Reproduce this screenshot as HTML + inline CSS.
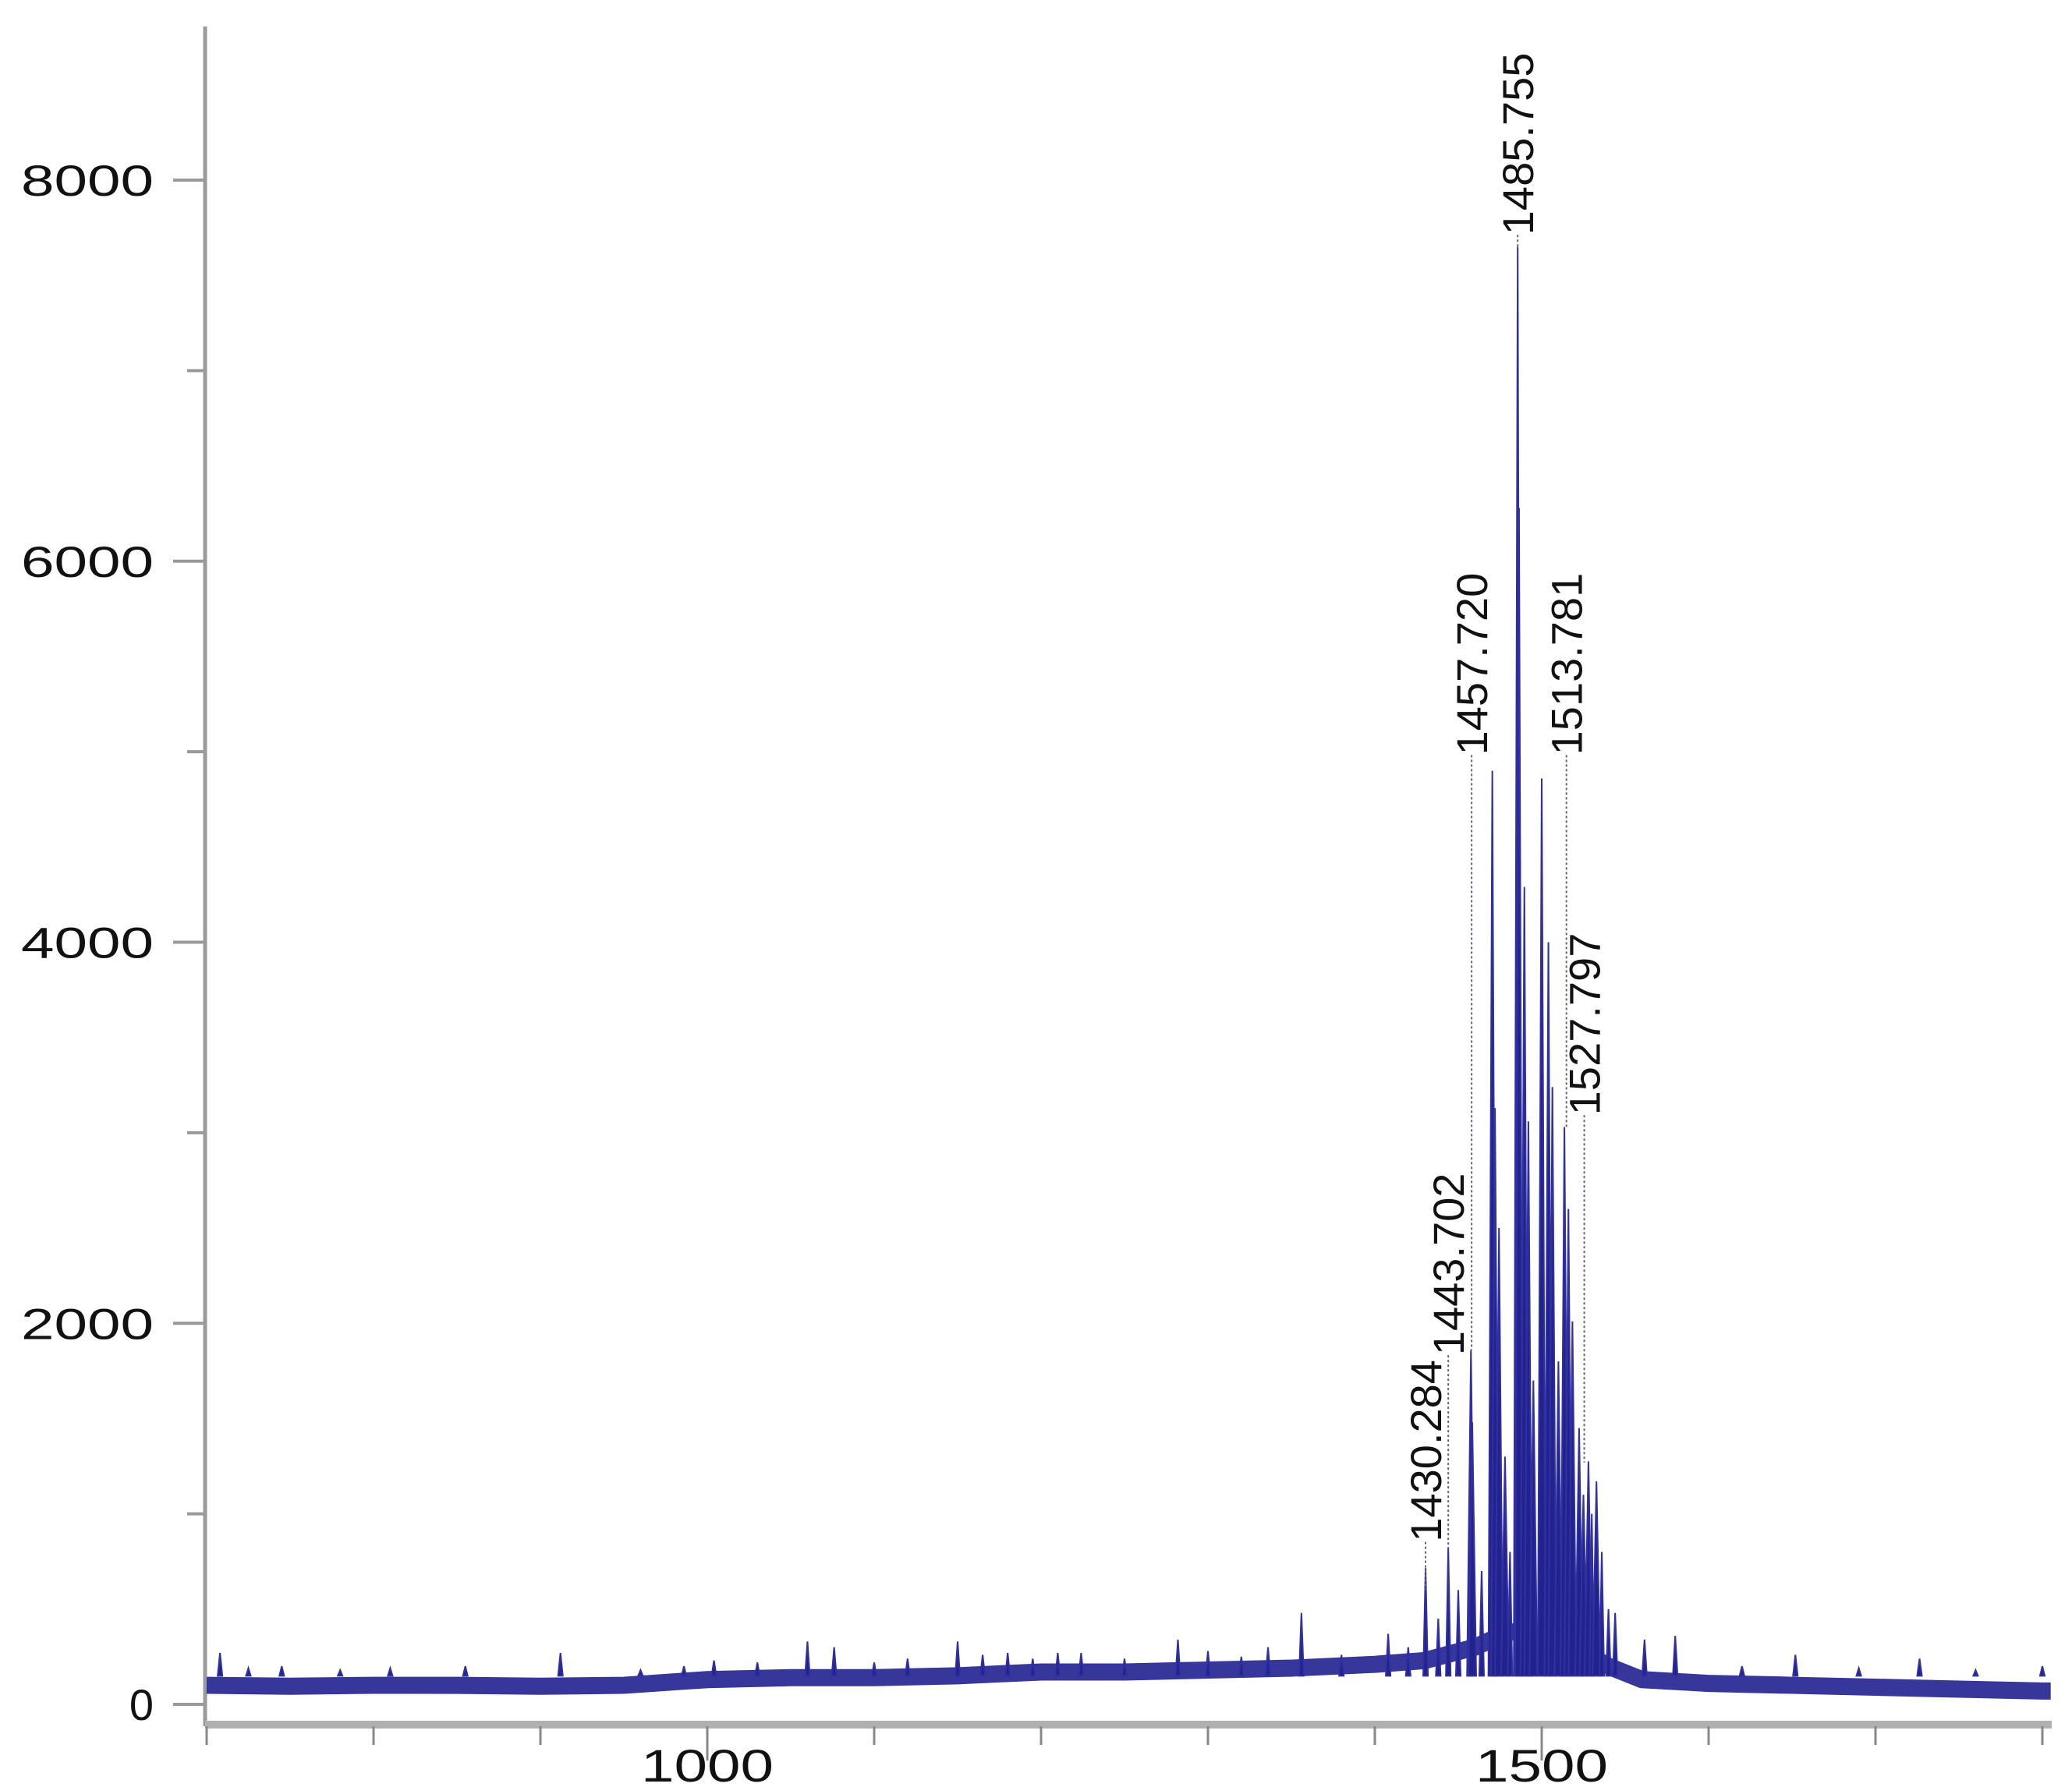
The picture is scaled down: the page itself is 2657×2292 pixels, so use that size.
<!DOCTYPE html>
<html><head><meta charset="utf-8"><style>
html,body{margin:0;padding:0;background:#fff;}
svg{display:block;font-family:"Liberation Sans",Arial,sans-serif;}
</style></head><body>
<svg id="chart" width="2657" height="2292" viewBox="0 0 2657 2292" xmlns="http://www.w3.org/2000/svg"></svg>
<script>
const baselineMz = [700,750,800,850,900,950,1000,1050,1100,1150,1200,1250,1300,1350,1400,1430,1460,1480,1500,1520,1540,1560,1600,1650,1700,1750,1800,1805];
const baselineInt = [100,95,100,100,95,100,130,140,140,150,170,170,180,190,210,230,300,380,380,300,200,130,110,100,90,80,70,70];
const peakMz = [708,725,745,780,810,855,912,960,986,1004,1030,1060,1076,1100,1120,1150,1165,1180,1195,1210,1224,1250,1282,1300,1320,1336,1356,1380,1408,1420,1430.4,1438,1444,1450,1457.6,1458.4,1464,1470.4,1472,1474.4,1478,1481,1485.6,1486.4,1489.6,1492,1495,1500,1504,1506.4,1510,1513.6,1516,1518.4,1522.4,1525,1528,1530,1532.8,1536,1540,1544,1561.6,1580,1620,1652,1690,1726.4,1760,1800];
const peakInt = [270,190,200,180,190,200,270,180,200,230,220,330,300,220,240,330,260,270,240,270,270,240,340,280,250,300,480,260,370,300,715,450,820,600,1860,1480,700,4900,3130,2500,1300,800,7650,6280,4290,3060,1700,4860,4000,3240,1800,3030,2600,2010,1450,1100,1275,1000,1170,800,500,480,340,360,200,260,190,240,180,200];
const labelText = ["1430.284","1443.702","1457.720","1485.755","1513.781","1527.797"];
const labelMz = [1430.4,1444,1458,1485.6,1514.8,1525.5];
const labelBaseInt = [820,1800,4950,7680,4950,3060];
const leaderEndInt = [600,820,1860,7650,3030,1270];
const yTicks = [0,2000,4000,6000,8000];
const yMinor = [1000,3000,5000,7000];
const xTicks = [700,800,900,1000,1100,1200,1300,1400,1500,1600,1700,1800];
const xLabels = [1000,1500];

const NS="http://www.w3.org/2000/svg";
const svg=document.getElementById('chart');
function X(mz){return 265+(mz-700)*2.14;}
function Y(v){return 2186-v*(1955/8000);}
function mk(t,a){const e=document.createElementNS(NS,t);for(const k in a)e.setAttribute(k,a[k]);svg.appendChild(e);return e;}

let e=mk('line',{x1:263,y1:34,x2:263,y2:2214,stroke:'#9a9a9a','stroke-width':5});


e=mk('line',{x1:263,y1:2212,x2:2631,y2:2212,stroke:'#b0b0b0','stroke-width':10});


yTicks.forEach(v=>{
  let t=mk('line',{x1:222,y1:Y(v),x2:263,y2:Y(v),stroke:'#999','stroke-width':4});
  
  
  let s=mk('text',{x:197,y:Y(v)+20,'font-size':56,'text-anchor':'end',fill:'#111'});
  if(v>0){s.setAttribute('textLength',170);s.setAttribute('lengthAdjust','spacingAndGlyphs');}
  s.textContent=String(v);
  
  
});
yMinor.forEach(v=>{
  let t=mk('line',{x1:240,y1:Y(v),x2:263,y2:Y(v),stroke:'#999','stroke-width':4});
  
  
});
xTicks.forEach(v=>{
  const major=xLabels.includes(v);
  let t=mk('line',{x1:X(v),y1:2214,x2:X(v),y2:major?2258:2238,stroke:'#888','stroke-width':3});
  
  
});
xLabels.forEach(v=>{
  let s=mk('text',{x:X(v),y:2285,'font-size':58,'text-anchor':'middle',fill:'#111',textLength:170,lengthAdjust:'spacingAndGlyphs'});
  s.textContent=String(v);
  
  
});

let pts=baselineMz.map((m,i)=>X(m)+','+Y(baselineInt[i])).join(' ');
e=mk('polyline',{points:pts,fill:'none',stroke:'#2b2b96','stroke-width':22,'stroke-linejoin':'round','stroke-opacity':0.95});



peakMz.forEach((m,i)=>{
  const base=Y(150), top=Y(peakInt[i]), w=peakInt[i]>1000?5:3;
  let p=mk('polygon',{points:`${X(m)-w},${base} ${X(m)},${top} ${X(m)+w},${base}`,fill:'#22228f',stroke:'#3030a0','stroke-width':2});
  
  
});

labelText.forEach((t,i)=>{
  const x=X(labelMz[i]), yb=Y(labelBaseInt[i])-8;
  let l=mk('line',{x1:x,y1:yb,x2:x,y2:Y(leaderEndInt[i]),stroke:'#666','stroke-width':2,'stroke-dasharray':'3,3'});
  
  
  let s=mk('text',{x:x+20,y:yb,'font-size':56,fill:'#111',transform:`rotate(-90 ${x+20} ${yb})`});
  s.textContent=t;
  
  
});
</script>
</body></html>
